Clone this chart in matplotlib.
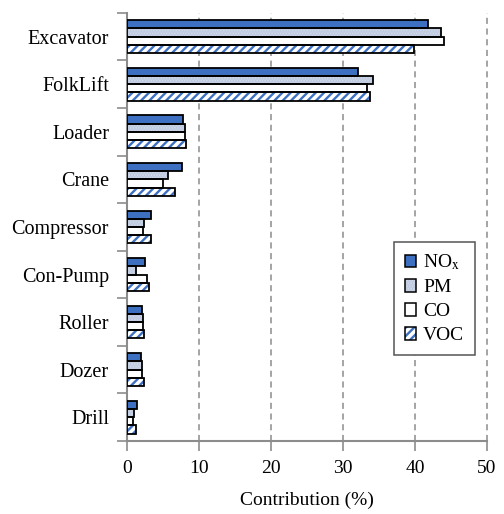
import matplotlib
matplotlib.use("Agg")
import matplotlib.pyplot as plt
import numpy as np
from matplotlib.patches import Patch
from matplotlib.legend_handler import HandlerTuple

plt.rcParams['font.family'] = ['Liberation Serif', 'DejaVu Serif']
plt.rcParams['mathtext.fontset'] = 'stix'
plt.rcParams['hatch.linewidth'] = 1.7

categories = ["Excavator", "FolkLift", "Loader", "Crane", "Compressor",
              "Con-Pump", "Roller", "Dozer", "Drill"]
nox = [41.8, 32.1, 7.8, 7.7, 3.3, 2.5, 2.1, 1.9, 1.4]
pm = [43.6, 34.2, 8.0, 5.7, 2.4, 1.2, 2.2, 2.1, 1.0]
co = [44.0, 33.4, 8.1, 5.0, 2.2, 2.8, 2.2, 2.1, 0.9]
voc = [39.9, 33.8, 8.2, 6.6, 3.3, 3.1, 2.3, 2.3, 1.2]
series_labels = [r"NO$_\mathrm{x}$", "PM", "CO", "VOC"]
x_ticks = [0, 10, 20, 30, 40, 50]

# (face colour, hatch, hatch colour) for each series
styles = [
    ("#3d70c0", None, "#3d70c0"),
    ("#d6dff0", "......", "#b9c4da"),
    ("#ffffff", None, "#ffffff"),
    ("#ffffff", "////", "#3d70c0"),
]

fig = plt.figure(figsize=(5.04, 5.14), dpi=100)
ax = fig.add_axes([0.252, 0.142, 0.714, 0.833])

y = np.arange(len(categories))
h = 0.172
offsets = [-1.5 * h, -0.5 * h, 0.5 * h, 1.5 * h]
handles = []
for vals, off, (fc, hatch, hc), lab in zip([nox, pm, co, voc], offsets, styles, series_labels):
    ax.barh(y + off, vals, height=h, color=fc, hatch=hatch, edgecolor=hc,
            linewidth=0, zorder=3)
    ax.barh(y + off, vals, height=h, fill=False, edgecolor="black",
            linewidth=1.3, zorder=4)
    handles.append((Patch(facecolor=fc, hatch=hatch, edgecolor=hc, linewidth=0),
                    Patch(fill=False, edgecolor="black", linewidth=1.1)))

ax.set_xlim(0, 50)
ax.set_ylim(len(categories) - 0.5, -0.5)
ax.set_xticks(x_ticks)
ax.set_xticklabels([str(t) for t in x_ticks], fontsize=14)
ax.set_yticks(y)
ax.set_yticklabels(categories, fontsize=14.5)
ax.set_yticks(np.arange(-0.5, len(categories), 1.0), minor=True)
ax.tick_params(axis='y', which='major', length=0, pad=13)
ax.tick_params(axis='y', which='minor', length=7, width=1.2, color="#8c8c8c", direction='out')
ax.tick_params(axis='x', length=7, width=1.2, color="#8c8c8c", pad=7)

for sp in ("top", "right"):
    ax.spines[sp].set_visible(False)
for sp in ("left", "bottom"):
    ax.spines[sp].set_color("#8c8c8c")
    ax.spines[sp].set_linewidth(1.5)

for t in x_ticks[1:]:
    ax.axvline(t, color="#8c8c8c", linestyle=(0, (4, 3)), linewidth=1.1,
               zorder=1, clip_on=False)

ax.set_xlabel("Contribution (%)", fontsize=14, labelpad=10)

leg = ax.legend(handles, series_labels, handler_map={tuple: HandlerTuple(ndivide=1)},
                loc="upper left", bbox_to_anchor=(0.742, 0.465), fontsize=14,
                fancybox=False, edgecolor="#555555", framealpha=1,
                handlelength=0.6, handleheight=0.6, handletextpad=0.35,
                labelspacing=0.36, borderpad=0.55, borderaxespad=0)
leg.get_frame().set_linewidth(1.1)
leg.set_zorder(10)

fig.savefig("out.png", dpi=100)
